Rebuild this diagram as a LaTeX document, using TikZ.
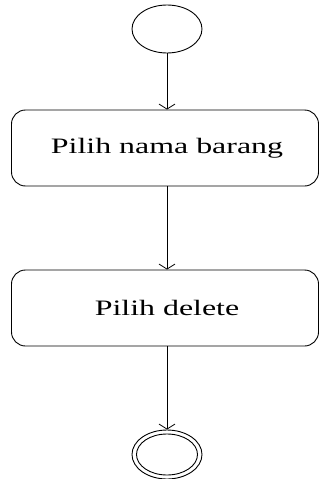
\documentclass[tikz,border=0pt]{standalone}
\usepackage{fontspec}
\setmainfont{Liberation Serif}
\usetikzlibrary{shapes.geometric,arrows.meta}
\tikzset{
  flow/.style={draw=black, line width=0.9pt},
  stepbox/.style={flow, rounded corners=14pt, minimum width=307pt, minimum height=76pt, inner sep=0pt},
  state/.style={flow, ellipse, inner sep=0pt},
  link/.style={line width=0.8pt, -{Straight Barb[length=5pt,width=16pt,line width=0.8pt]}},
  label/.style={font=\fontsize{22}{24}\selectfont}
}
\newcommand{\widelabel}[1]{\scalebox{1.45}[1]{#1}}
\begin{document}
\begin{tikzpicture}[x=1pt,y=-1pt]
  \useasboundingbox (0,0) rectangle (320,479);
  % initial state
  \node[state, minimum width=70pt, minimum height=48pt] (start) at (167,29) {};
  % actions
  \node[stepbox] (pick) at (165,148) {};
  \node[label] (pickt) at (167,148) {\widelabel{Pilih nama barang}};
  \node[stepbox] (del) at (165,308) {};
  \node[label] (delt) at (167,308) {\widelabel{Pilih delete}};
  % final state
  \node[state, minimum width=70pt, minimum height=49pt] (stop) at (167,454.5) {};
  \node[state, minimum width=61pt, minimum height=41pt] (stopin) at (167,454.5) {};
  % transitions
  \draw[link] (start.south) -- (start.south |- pick.north);
  \draw[link] (start.south |- pick.south) -- (start.south |- del.north);
  \draw[link] (start.south |- del.south) -- (stop.north);
\end{tikzpicture}
\end{document}
